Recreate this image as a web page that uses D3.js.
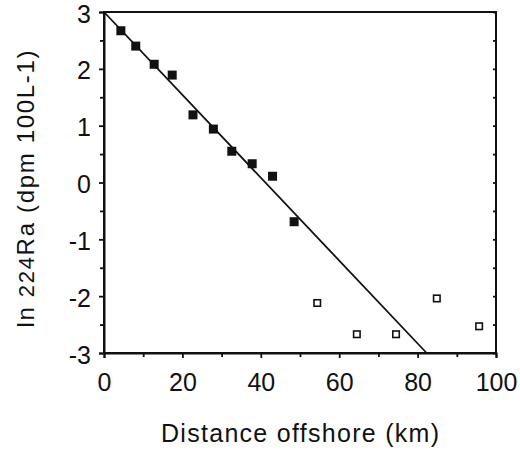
<!DOCTYPE html>
<html><head><meta charset="utf-8">
<script src="https://cdn.jsdelivr.net/npm/d3@7"></script>
<style>body{margin:0;background:#fff}svg{display:block}text{font-family:"Liberation Sans",Arial,sans-serif;fill:#111}</style>
</head><body><svg id="c" width="520" height="452"></svg>
<script>
const filledX = [4.3, 8.1, 12.8, 17.4, 22.7, 27.9, 32.6, 37.8, 43.0, 48.5];
const filledY = [2.67, 2.40, 2.08, 1.89, 1.19, 0.94, 0.55, 0.33, 0.11, -0.69];
const openX = [54.4, 64.5, 74.5, 84.9, 95.7];
const openY = [-2.12, -2.67, -2.67, -2.04, -2.53];
const fitIntercept = 3.0, fitSlope = -0.0729;
const xTicks = [0, 20, 40, 60, 80, 100];
const yTicks = [-3, -2, -1, 0, 1, 2, 3];
const xTitle = "Distance offshore (km)";

const svg = d3.select("#c");
const L = 104, R = 496, T = 12, B = 353;
const x = d3.scaleLinear().domain([0, 100]).range([L, R]);
const y = d3.scaleLinear().domain([-3, 3]).range([B, T]);
const fmt = d => String(d);

// frame
svg.append("rect").attr("x", L).attr("y", T).attr("width", R - L).attr("height", B - T)
  .attr("fill", "none").attr("stroke", "#111").attr("stroke-width", 2);

// bottom axis
svg.append("g").attr("class", "xa").attr("transform", `translate(0,${B})`)
  .call(d3.axisBottom(x).tickValues(xTicks).tickSize(5).tickPadding(15).tickFormat(fmt));
svg.append("g").attr("transform", `translate(0,${B})`)
  .call(d3.axisBottom(x).tickValues(d3.range(10, 100, 20)).tickSize(4).tickFormat(""))
  .call(g => g.select(".domain").remove());
// left axis
svg.append("g").attr("class", "ya").attr("transform", `translate(${L},0)`)
  .call(d3.axisLeft(y).tickValues(yTicks).tickSize(5).tickPadding(8).tickFormat(fmt));
svg.append("g").attr("transform", `translate(${L},0)`)
  .call(d3.axisLeft(y).tickValues(d3.range(-2.5, 3, 1)).tickSize(4).tickFormat(""))
  .call(g => g.select(".domain").remove());
// right axis inner ticks
svg.append("g").attr("transform", `translate(${R},0)`)
  .call(d3.axisLeft(y).tickValues(d3.range(-3, 3.01, 0.5)).tickSize(3).tickFormat(""))
  .call(g => g.select(".domain").remove());

svg.selectAll(".domain").attr("stroke", "#111").attr("stroke-width", 2);
svg.selectAll(".tick line").attr("stroke", "#111").attr("stroke-width", 1.8);
svg.selectAll(".tick text").style("font-size", "25px").attr("fill", "#111")
  .style("font-family", '"Liberation Sans", Arial, sans-serif');
svg.selectAll(".ya .tick text").attr("dy", "0.4em");

// fit line
const xEnd = (-3 - fitIntercept) / fitSlope;
svg.append("line").attr("x1", x(0)).attr("y1", y(fitIntercept))
  .attr("x2", x(xEnd)).attr("y2", y(fitIntercept + fitSlope * xEnd))
  .attr("stroke", "#111").attr("stroke-width", 1.8);

// filled squares
const s1 = 9;
svg.selectAll(".f").data(filledX.map((d, i) => [d, filledY[i]])).enter().append("rect")
  .attr("x", d => x(d[0]) - s1 / 2).attr("y", d => y(d[1]) - s1 / 2)
  .attr("width", s1).attr("height", s1).attr("fill", "#111");
// open squares
const s2 = 6.5;
svg.selectAll(".o").data(openX.map((d, i) => [d, openY[i]])).enter().append("rect")
  .attr("x", d => x(d[0]) - s2 / 2).attr("y", d => y(d[1]) - s2 / 2)
  .attr("width", s2).attr("height", s2).attr("fill", "#fff").attr("stroke", "#111").attr("stroke-width", 1.6);

// titles
svg.append("text").attr("x", (L + R) / 2).attr("y", 442).attr("text-anchor", "middle")
  .style("font-size", "25px").attr("textLength", 278).attr("lengthAdjust", "spacing").text(xTitle);
const yt = svg.append("text").attr("transform", `translate(34,189) rotate(-90)`)
  .attr("text-anchor", "middle").style("font-size", "24px")
  .attr("textLength", 277).attr("lengthAdjust", "spacing");
yt.append("tspan").text("ln ");
yt.append("tspan").style("font-size", "22px").text("224");
yt.append("tspan").text("Ra (dpm 100L-1)");
</script></body></html>
